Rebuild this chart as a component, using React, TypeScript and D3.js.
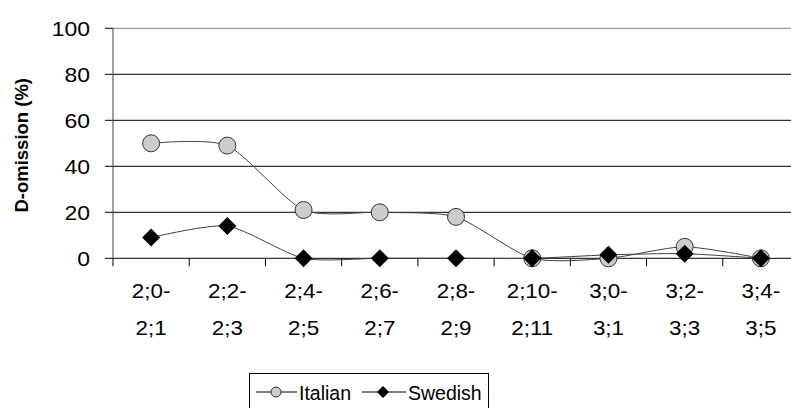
import React from "react";
import * as d3 from "d3";

const categories = [
  ["2;0-", "2;1"],
  ["2;2-", "2;3"],
  ["2;4-", "2;5"],
  ["2;6-", "2;7"],
  ["2;8-", "2;9"],
  ["2;10-", "2;11"],
  ["3;0-", "3;1"],
  ["3;2-", "3;3"],
  ["3;4-", "3;5"],
];
const italian = [50, 49, 21, 20, 18, 0, 0, 5, 0];
const swedish = [9, 14, 0, 0, 0, 0, 1.5, 2, 0];
const yTicks = [0, 20, 40, 60, 80, 100];

const W = 791;
const H = 408;
const left = 113;
const right = 799;
const top = 28.3;
const bottom = 258.3;

export default function App() {
  const ids = categories.map((_, i) => String(i));
  const x = d3.scaleBand().domain(ids).range([left, right]);
  const y = d3.scaleLinear().domain([0, 100]).range([bottom, top]);
  const cx = (i: number) => (x(String(i)) as number) + x.bandwidth() / 2;
  const line = d3
    .line<number>()
    .x((_, i) => cx(i))
    .y((d) => y(d))
    .curve(d3.curveCardinal.tension(0.3));
  const font = "'Liberation Sans', Arial, sans-serif";
  const diamond = (px: number, py: number, r: number) =>
    `M${px},${py - r}L${px + r},${py}L${px},${py + r}L${px - r},${py}Z`;
  const ticksX = d3.range(categories.length + 1).map((i) => left + i * x.bandwidth());
  const sx = 1.12;

  return (
    <svg width={W} height={H} style={{ position: "absolute", left: 0, top: 0 }} fontFamily={font}>
      <rect width={W} height={H} fill="#fff" />
      {yTicks.map((t) => (
        <g key={t}>
          <line
            x1={left}
            x2={right}
            y1={y(t)}
            y2={y(t)}
            stroke={t === 100 ? "#808080" : "#000"}
            strokeWidth={1}
          />
          <line x1={105} x2={left} y1={y(t)} y2={y(t)} stroke="#000" />
          <text
            transform={`translate(90,${y(t)}) scale(${sx},1)`}
            dy="0.36em"
            textAnchor="end"
            fontSize={20.5}
          >
            {t}
          </text>
        </g>
      ))}
      <line x1={left} x2={left} y1={top} y2={bottom} stroke="#404040" />
      {ticksX.map((tx, i) => (
        <line key={i} x1={tx} x2={tx} y1={bottom} y2={bottom + 8} stroke="#000" />
      ))}
      {categories.map((c, i) => (
        <g key={i} transform={`translate(${cx(i)},0) scale(${sx},1)`}>
          <text x={0} y={298.5} textAnchor="middle" fontSize={20}>{c[0]}</text>
          <text x={0} y={335} textAnchor="middle" fontSize={20}>{c[1]}</text>
        </g>
      ))}
      <text
        transform={`translate(28,${(top + bottom) / 2 + 2}) rotate(-90)`}
        textAnchor="middle"
        fontSize={18.5}
        fontWeight="bold"
      >
        D-omission (%)
      </text>
      <path d={line(italian) || ""} fill="none" stroke="#404040" strokeWidth={1} />
      <path d={line(swedish) || ""} fill="none" stroke="#404040" strokeWidth={1} />
      {italian.map((v, i) => (
        <circle key={i} cx={cx(i)} cy={y(v)} r={8.5} fill="#cccccc" stroke="#333" strokeWidth={1} />
      ))}
      {swedish.map((v, i) => (
        <path key={i} d={diamond(cx(i), y(v), 9)} fill="#000" />
      ))}
      <g>
        <rect x={249.5} y={373.5} width={239} height={40} fill="#fff" stroke="#000" />
        <line x1={256} x2={297} y1={392} y2={392} stroke="#000" />
        <circle cx={276} cy={392} r={5} fill="#cccccc" stroke="#333" />
        <text x={299} y={399.5} fontSize={19.5}>Italian</text>
        <line x1={362} x2={406} y1={392} y2={392} stroke="#000" />
        <path d={diamond(383, 392, 6)} fill="#000" />
        <text x={408} y={399.5} fontSize={19.5}>Swedish</text>
      </g>
    </svg>
  );
}
